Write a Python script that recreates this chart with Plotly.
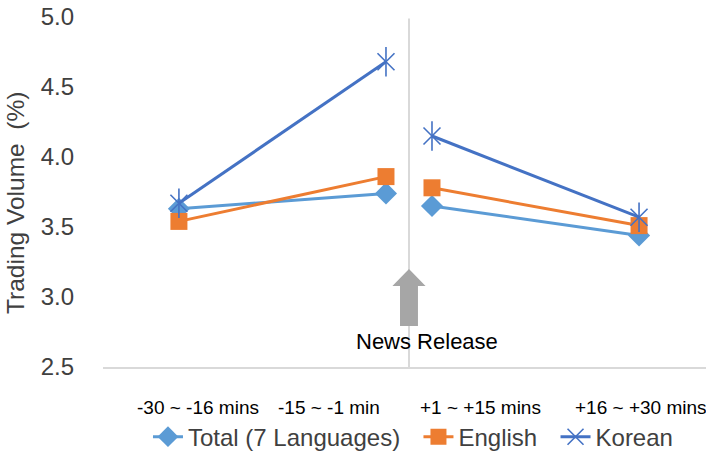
import plotly.graph_objects as go

# Trading volume share (%) per 15-minute window around a news release
periods = ["-30 ~ -16 mins", "-15 ~ -1 min", "+1 ~ +15 mins", "+16 ~ +30 mins"]
total_7_lang = [3.63, 3.74, 3.65, 3.44]
english = [3.54, 3.86, 3.78, 3.51]
korean = [3.67, 4.68, 4.15, 3.57]

y_ticks = [2.5, 3.0, 3.5, 4.0, 4.5, 5.0]

# Horizontal placement: release moment at 0, windows on either side
x_pos = [-10, -1, 1, 10]
label_pos = [-9.17, -3.48, 3.09, 10.09]
before, after = slice(0, 2), slice(2, 4)

C_TOTAL = "#5B9BD5"
C_ENG = "#ED7D31"
C_KOR = "#4472C4"
FONT = "Liberation Sans, Arial, sans-serif"
NBSP = "\u00a0"

fig = go.Figure()


def add_series(name, values, color, symbol, size, mline, group):
    for i, part in enumerate((before, after)):
        fig.add_trace(go.Scatter(
            x=x_pos[part], y=values[part], mode="lines+markers",
            name=name, legendgroup=group, showlegend=(i == 0),
            line=dict(color=color, width=3),
            marker=dict(symbol=symbol, size=size, color=color,
                        line=dict(color=color, width=mline)),
        ))


add_series("Total (7 Languages)" + NBSP * 2, total_7_lang, C_TOTAL, "diamond", 17, 0, "t")
add_series("English" + NBSP * 2, english, C_ENG, "square", 17, 0, "e")
add_series("Korean", korean, C_KOR, "x-thin-open", 17, 1.6, "k")
# vertical stroke completes the asterisk marker
fig.add_trace(go.Scatter(
    x=x_pos, y=korean, mode="markers", showlegend=False, legendgroup="k",
    marker=dict(symbol="line-ns-open", size=21, color=C_KOR,
                line=dict(color=C_KOR, width=1.6)),
    hoverinfo="skip",
))

# separator at release time
fig.add_shape(type="line", xref="x", yref="y", x0=0, x1=0, y0=2.5, y1=4.99,
              line=dict(color="#D9D9D9", width=2), layer="below")

# block arrow pointing up at the separator
hw, sw = 0.72, 0.39
tip, base, bottom = 3.2, 3.079, 2.793
fig.add_shape(
    type="path", xref="x", yref="y",
    path=(f"M {-sw} {bottom} L {-sw} {base} L {-hw} {base} L 0 {tip} "
          f"L {hw} {base} L {sw} {base} L {sw} {bottom} Z"),
    fillcolor="#A6A6A6", line=dict(width=0),
)
fig.add_annotation(x=0.78, y=2.68, xref="x", yref="y", text="News Release",
                   showarrow=False, font=dict(family=FONT, size=22, color="#000000"))

for lp, lab in zip(label_pos, periods):
    fig.add_annotation(x=lp, y=2.5, xref="x", yref="y", yshift=-40, text=lab,
                       showarrow=False, font=dict(family=FONT, size=19, color="#000000"))

# y-axis title
fig.add_annotation(x=-0.1443, y=0.4686, xref="paper", yref="paper",
                   text="Trading Volume  (%)", textangle=-90, showarrow=False,
                   xanchor="center", yanchor="middle",
                   font=dict(family=FONT, size=24.5, color="#404040"))

fig.update_layout(
    width=706, height=465,
    margin=dict(l=103, r=0, t=17, b=98),
    paper_bgcolor="white", plot_bgcolor="white",
    font=dict(family=FONT, color="#404040"),
    showlegend=True,
    legend=dict(orientation="h", x=0.2096, xanchor="left", y=0.06, yanchor="middle",
                xref="container", yref="container",
                font=dict(family=FONT, size=24, color="#404040"),
                itemwidth=30, tracegroupgap=0),
    xaxis=dict(range=[-13.3, 12.91], showticklabels=False, showgrid=False,
               zeroline=False, showline=True, linecolor="#D9D9D9", linewidth=1.5,
               ticks=""),
    yaxis=dict(range=[2.5, 5.0], tickvals=y_ticks, ticktext=[f"{v:.1f}" for v in y_ticks],
               showgrid=False, zeroline=False, showline=False, ticks="",
               ticklabelstandoff=28,
               tickfont=dict(family=FONT, size=24, color="#404040")),
)

fig.write_html("out.html")
